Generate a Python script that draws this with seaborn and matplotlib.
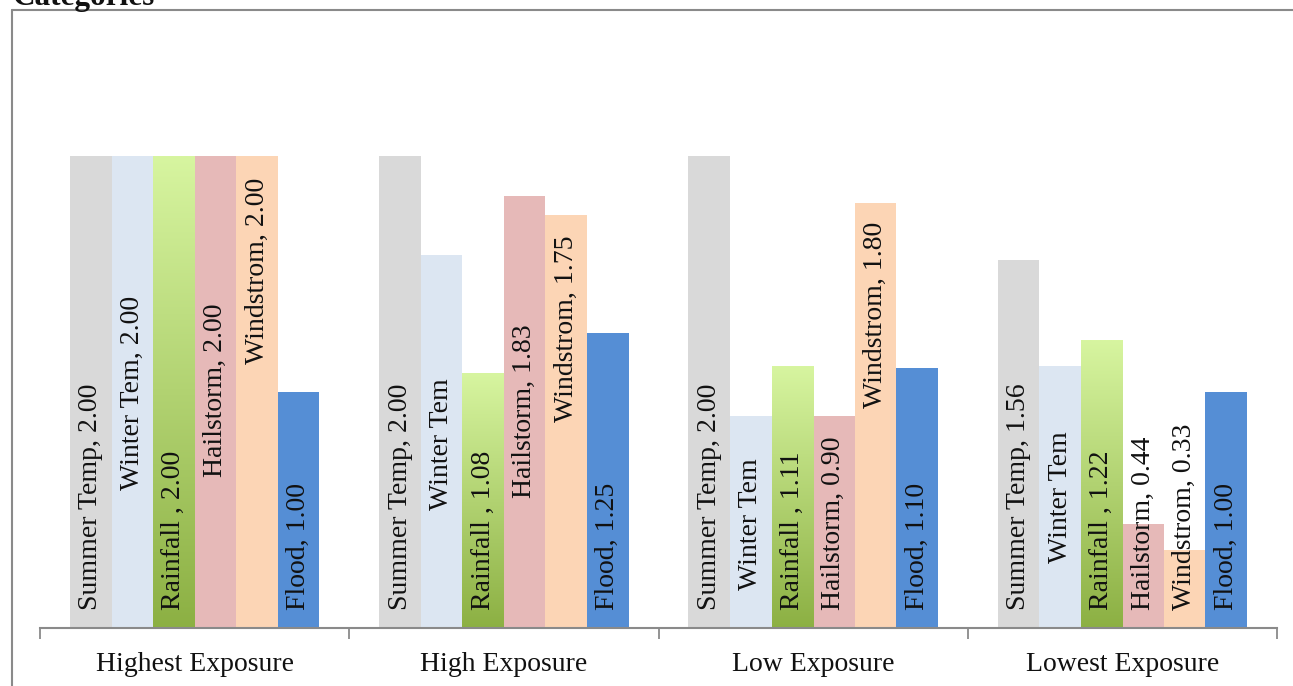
import numpy as np
import pandas as pd
import matplotlib
matplotlib.use("Agg")
import matplotlib.pyplot as plt
from matplotlib.colors import to_rgb
from matplotlib.lines import Line2D
import seaborn as sns

# ---- data -------------------------------------------------------------
groups = ["Highest Exposure", "High Exposure", "Low Exposure", "Lowest Exposure"]
hazards = ["Summer Temp", "Winter Tem", "Rainfall", "Hailstorm", "Windstrom", "Flood"]
label_names = ["Summer Temp", "Winter Tem", "Rainfall ", "Hailstorm", "Windstrom", "Flood"]

summer_temp = [2.00, 2.00, 2.00, 1.56]
winter_tem = [2.00, 1.58, 0.90, 1.11]
rainfall = [2.00, 1.08, 1.11, 1.22]
hailstorm = [2.00, 1.83, 0.90, 0.44]
windstrom = [2.00, 1.75, 1.80, 0.33]
flood = [1.00, 1.25, 1.10, 1.00]

# whether the value is printed after the hazard name (per group)
winter_value_shown = [True, False, False, False]

# ---- styling ----------------------------------------------------------
colors = ["#d9d9d9", "#dce6f2", "#a8c866", "#e6b9b8", "#fcd5b5", "#558ed5"]
rain_top, rain_bottom = "#d7f5a0", "#8cb043"
# baseline of each in-bar label, in data units
label_base = [
    [0.076, 0.585, 0.076, 0.64, 1.12, 0.076],
    [0.076, 0.50, 0.076, 0.55, 0.873, 0.076],
    [0.076, 0.161, 0.076, 0.076, 0.932, 0.076],
    [0.076, 0.275, 0.076, 0.076, 0.076, 0.076],
]

series = [summer_temp, winter_tem, rainfall, hailstorm, windstrom, flood]
rows = []
for h, vals in zip(hazards, series):
    for g, v in zip(groups, vals):
        rows.append({"group": g, "hazard": h, "value": v})
df = pd.DataFrame(rows)

sns.set_theme(style="white")
plt.rcParams["font.family"] = ["Liberation Serif", "DejaVu Serif"]

W, H = 1293, 686
fig = plt.figure(figsize=(W / 100, H / 100), dpi=100)
ax = fig.add_axes([40 / W, (H - 628) / H, (1277 - 40) / W, 590 / H])

sns.barplot(data=df, x="group", y="value", hue="hazard", order=groups,
            hue_order=hazards, palette=colors, saturation=1, width=0.806,
            dodge=True, legend=False, ax=ax, linewidth=0, zorder=2)

# gradient fill for the rainfall bars
grad = np.linspace(0, 1, 256)[:, None, None]
c_top, c_bot = np.array(to_rgb(rain_top)), np.array(to_rgb(rain_bottom))
grad_img = c_bot * (1 - grad) + c_top * grad
rain_container = ax.containers[hazards.index("Rainfall")]
for p in rain_container.patches:
    x0, w, hgt = p.get_x(), p.get_width(), p.get_height()
    im = ax.imshow(grad_img, extent=[x0, x0 + w, 0, hgt], origin="lower",
                   aspect="auto", zorder=2.5, interpolation="bilinear")
    im.set_clip_path(p)

# in-bar labels
for hi, cont in enumerate(ax.containers):
    for gi, p in enumerate(cont.patches):
        v = series[hi][gi]
        if hazards[hi] == "Winter Tem" and not winter_value_shown[gi]:
            txt = label_names[hi]
        else:
            txt = f"{label_names[hi]}, {v:.2f}"
        ax.text(p.get_x() + p.get_width() / 2, label_base[gi][hi], txt,
                rotation=90, ha="center", va="bottom", fontsize=20,
                color="#111111", zorder=5)

ax.set_xlim(-0.5, 3.5)
ax.set_ylim(0, 2.5)
ax.set_xlabel("")
ax.set_ylabel("")
ax.set_yticks([])
for s in ["top", "left", "right"]:
    ax.spines[s].set_visible(False)
ax.spines["bottom"].set_color("#8a8a8a")
ax.spines["bottom"].set_linewidth(1.5)
ax.spines["bottom"].set_zorder(6)
ax.set_xticks(range(len(groups)))
ax.set_xticklabels(groups, fontsize=20)
ax.set_xticks([-0.5, 0.5, 1.5, 2.5, 3.5], minor=True)
ax.tick_params(axis="x", which="major", length=0, pad=17, colors="#111111")
ax.tick_params(axis="x", which="minor", length=8, width=1.3, color="#8a8a8a",
               direction="out", bottom=True)

# outer chart frame
fig.add_artist(Line2D([12 / W, 1], [1 - 10 / H, 1 - 10 / H], color="#8a8a8a", lw=1.5))
fig.add_artist(Line2D([12 / W, 12 / W], [0, 1 - 10 / H], color="#8a8a8a", lw=1.5))
fig.text(12 / W, 1 - 5 / H, "Categories", fontsize=22.5, fontweight="bold",
         ha="left", va="baseline", color="#111111")

fig.savefig("out.png", dpi=100)
